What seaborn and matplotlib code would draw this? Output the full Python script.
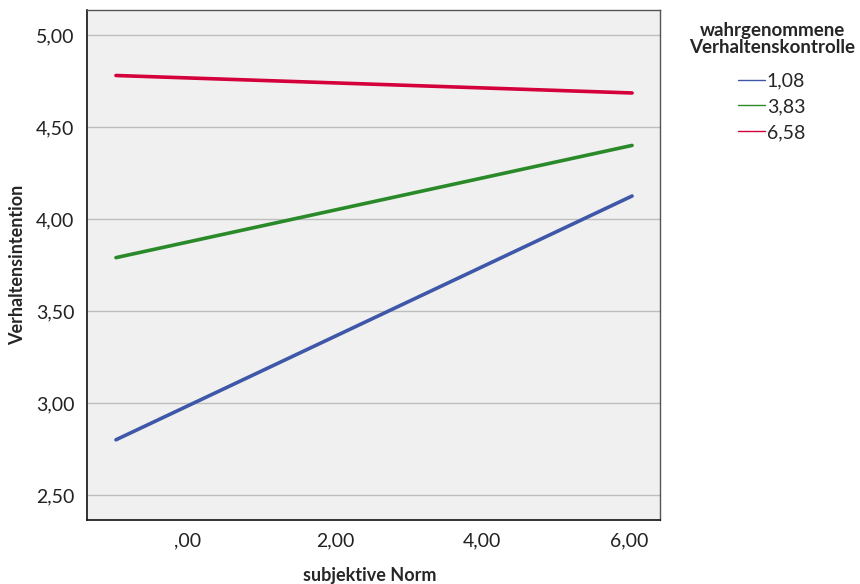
import numpy as np
import matplotlib.pyplot as plt
import pandas as pd
import seaborn as sns

# Data
norm = [-0.98, 6.04]
groups = ['1,08', '3,83', '6,58']
intention_low = [2.80, 4.125]
intention_mid = [3.79, 4.40]
intention_high = [4.78, 4.685]

x_ticks = [0, 2, 4, 6]
x_ticklabels = [',00', '2,00', '4,00', '6,00']
y_ticks = [2.5, 3.0, 3.5, 4.0, 4.5, 5.0]
y_ticklabels = ['2,50', '3,00', '3,50', '4,00', '4,50', '5,00']

df = pd.DataFrame({
    'Norm': norm * 3,
    'Intention': intention_low + intention_mid + intention_high,
    'PBC': [g for g in groups for _ in norm],
})

sns.set_style('white')
plt.rcParams['font.family'] = ['Lato', 'DejaVu Sans']

palette = {'1,08': '#3F57A8', '3,83': '#2A8A2A', '6,58': '#D4003C'}

fig = plt.figure(figsize=(8.6, 5.84), dpi=100)
ax = fig.add_axes([87 / 860, 64 / 584, 573 / 860, 510 / 584])
ax.set_facecolor('#F0F0F0')

sns.lineplot(data=df, x='Norm', y='Intention', hue='PBC', palette=palette,
             linewidth=2.6, ax=ax, legend=False)

ax.set_xlim(-1.374, 6.42)
ax.set_ylim(2.364, 5.136)
ax.set_xticks(x_ticks)
ax.set_xticklabels(x_ticklabels)
ax.set_yticks(y_ticks)
ax.set_yticklabels(y_ticklabels)
ax.tick_params(axis='both', labelsize=14, length=0, pad=9, colors='#222222')
ax.yaxis.grid(True, color='#BDBDBD', linewidth=1)
ax.set_axisbelow(True)
ax.set_xlabel('')
ax.set_ylabel('')

for side in ['left', 'bottom']:
    ax.spines[side].set_color('#111111')
    ax.spines[side].set_linewidth(1.2)
for side in ['top', 'right']:
    ax.spines[side].set_color('#555555')
    ax.spines[side].set_linewidth(1)

# Axis titles
fig.text(370 / 860, 1 - 575 / 584, 'subjektive Norm', fontsize=13, fontweight='bold',
         ha='center', va='center')
fig.text(18 / 860, 1 - 265 / 584, 'Verhaltensintention', fontsize=13, fontweight='bold',
         ha='center', va='center', rotation=90)

# Legend outside the plot area
fig.text(772 / 860, 1 - 39 / 584, 'wahrgenommene\nVerhaltenskontrolle', fontsize=13.5,
         fontweight='bold', ha='center', va='center', linespacing=1.0)
handles = [plt.Line2D([], [], color=palette[g], linewidth=1) for g in groups]
leg = fig.legend(handles, groups, loc='upper left',
                 bbox_to_anchor=(720 / 860, 1 - 55 / 584),
                 frameon=False, fontsize=14, handlelength=1.4, handletextpad=0.1,
                 labelspacing=0.45)

fig.savefig('out.png', dpi=100)
